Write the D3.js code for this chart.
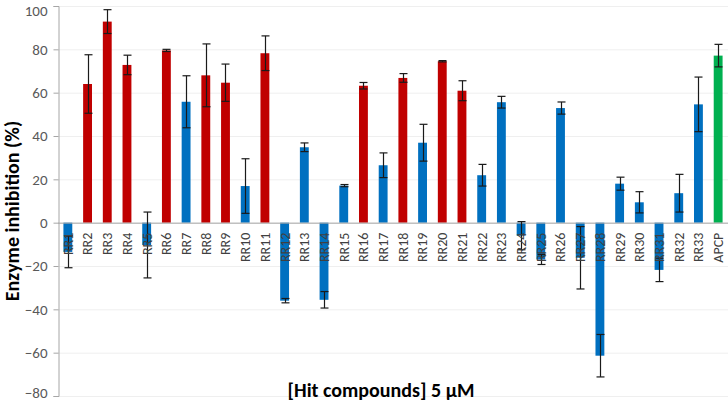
<!DOCTYPE html>
<html>
<head>
<meta charset="utf-8">
<script src="https://cdn.jsdelivr.net/npm/d3@7"></script>
<style>
  body { margin: 0; background: #fff; }
  text { font-family: Carlito, Calibri, Lato, sans-serif; }
  .tick text { fill: #595959; }
</style>
</head>
<body>
<div id="chart"></div>
<script>

var width = 728;
var height = 402;

// compounds and measured inhibition (%) with error
var compounds = ["RR1","RR2","RR3","RR4","RR5","RR6","RR7","RR8","RR9","RR10",
  "RR11","RR12","RR13","RR14","RR15","RR16","RR17","RR18","RR19","RR20",
  "RR21","RR22","RR23","RR24","RR25","RR26","RR27","RR28","RR29","RR30",
  "RR31","RR32","RR33","APCP"];
var inhibition = [-13.5, 64, 92.8, 72.8, -10.3, 79.5, 55.8, 68, 64.6, 16.9,
  78.2, -36, 34.8, -35.6, 17.1, 63.2, 26.5, 66.8, 36.9, 74.5,
  60.9, 21.9, 55.6, -6, -17, 52.9, -16.2, -61.4, 18, 9.4,
  -21.8, 13.6, 54.6, 77.1];
var errors = [7.3, 13.5, 5.5, 4.5, 15.2, 0.5, 12, 14.5, 8.6, 12.6,
  8, 1, 2, 3.8, 0.5, 1.5, 5.7, 2, 8.5, 0.3,
  4.6, 5, 2.7, 6.5, 2.3, 2.8, 14.4, 9.8, 3, 4.9,
  5.4, 8.7, 12.6, 5.2];
var groups = ["blue","red","red","red","blue","red","blue","red","red","blue",
  "red","blue","blue","blue","blue","red","blue","red","blue","red",
  "red","blue","blue","blue","blue","blue","blue","blue","blue","blue",
  "blue","blue","blue","green"];
var yTicks = [-80, -60, -40, -20, 0, 20, 40, 60, 80, 100];

var colors = {red: "#C00000", blue: "#0070C0", green: "#00B050"};

var dataset = compounds.map(function(c, i) {
  return {name: c, value: inhibition[i], err: errors[i], group: groups[i]};
});

var svg = d3.select("#chart")
  .append("svg")
  .attr("width", width)
  .attr("height", height);

var xScale = d3.scaleBand()
  .domain(compounds)
  .range([58, 728])
  .paddingInner(0.55)
  .paddingOuter(0.275);

var yScale = d3.scaleLinear()
  .domain([-80, 100])
  .range([396, 6]);

// gridlines
svg.append("g")
  .selectAll("line")
  .data(yTicks)
  .enter()
  .append("line")
  .attr("x1", 58)
  .attr("x2", 728)
  .attr("y1", function(d) { return yScale(d) + 0.5; })
  .attr("y2", function(d) { return yScale(d) + 0.5; })
  .attr("stroke", "#efefef")
  .attr("stroke-width", 1);

// y axis
var yAxis = svg.append("g")
  .attr("transform", "translate(58.5,0)")
  .call(d3.axisLeft(yScale).tickValues(yTicks).tickSize(5).tickPadding(6));
yAxis.select(".domain").attr("stroke", "#a6a6a6");
yAxis.selectAll(".tick line").attr("stroke", "#a6a6a6");
yAxis.selectAll(".tick text")
  .style("font-size", "15px")
  .attr("dy", function(d) {
    // keep the end labels inside the frame
    if (d === 100) return "0.6em";
    if (d === -80) return "0.1em";
    return "0.32em";
  });

// bars
svg.selectAll(".bar")
  .data(dataset)
  .enter()
  .append("rect")
  .attr("class", "bar")
  .attr("x", function(d) { return xScale(d.name); })
  .attr("y", function(d) { return yScale(Math.max(0, d.value)); })
  .attr("width", xScale.bandwidth())
  .attr("height", function(d) { return Math.abs(yScale(d.value) - yScale(0)); })
  .attr("fill", function(d) { return colors[d.group]; });

// zero line
svg.append("line")
  .attr("x1", 58)
  .attr("x2", 728)
  .attr("y1", yScale(0) + 0.5)
  .attr("y2", yScale(0) + 0.5)
  .attr("stroke", "#a6a6a6")
  .attr("stroke-width", 1);

// error bars
var eb = svg.selectAll(".err")
  .data(dataset)
  .enter()
  .append("g")
  .attr("class", "err")
  .attr("stroke", "#1a1a1a")
  .attr("stroke-width", 1.2);

function cx(d) { return Math.round(xScale(d.name) + xScale.bandwidth() / 2) + 0.5; }

eb.append("line")
  .attr("x1", cx).attr("x2", cx)
  .attr("y1", function(d) { return yScale(d.value + d.err); })
  .attr("y2", function(d) { return yScale(d.value - d.err); });
eb.append("line")
  .attr("x1", function(d) { return cx(d) - 4; })
  .attr("x2", function(d) { return cx(d) + 4; })
  .attr("y1", function(d) { return yScale(d.value + d.err); })
  .attr("y2", function(d) { return yScale(d.value + d.err); });
eb.append("line")
  .attr("x1", function(d) { return cx(d) - 4; })
  .attr("x2", function(d) { return cx(d) + 4; })
  .attr("y1", function(d) { return yScale(d.value - d.err); })
  .attr("y2", function(d) { return yScale(d.value - d.err); });

// category labels, drawn over the bars
svg.selectAll(".cat")
  .data(compounds)
  .enter()
  .append("text")
  .attr("class", "cat")
  .attr("transform", function(d) {
    return "translate(" + (xScale(d) + xScale.bandwidth() / 2) + "," + (yScale(0) + 10) + ") rotate(-90)";
  })
  .attr("dy", "0.35em")
  .style("text-anchor", "end")
  .style("font-size", "14px")
  .style("fill", "#404040")
  .text(function(d) { return d; });

// axis titles
svg.append("text")
  .attr("transform", "rotate(-90)")
  .attr("x", -211)
  .attr("y", 18.5)
  .style("text-anchor", "middle")
  .style("font-size", "20px")
  .style("font-weight", "bold")
  .style("fill", "#000")
  .text("Enzyme inhibition (%)");

svg.append("text")
  .attr("x", 381)
  .attr("y", 397)
  .style("text-anchor", "middle")
  .style("font-size", "20px")
  .style("font-weight", "bold")
  .style("fill", "#000")
  .text("[Hit compounds] 5 µM");

</script>
</body>
</html>
